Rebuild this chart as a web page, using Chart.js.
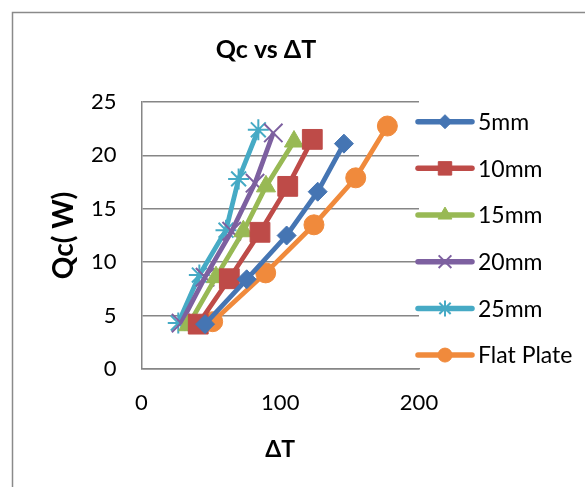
<!DOCTYPE html>
<html>
<head>
<meta charset="utf-8">
<script src="https://cdn.jsdelivr.net/npm/chart.js@4/dist/chart.umd.min.js"></script>
<style>
  html, body { margin: 0; padding: 0; background: #fff; }
  #wrap { position: relative; width: 585px; height: 487px; }
  canvas { display: block; }
</style>
</head>
<body>
<div id="wrap"><canvas id="c" width="585" height="487"></canvas></div>
<script>
// ---- data ----
const seriesNames = ['5mm', '10mm', '15mm', '20mm', '25mm', 'Flat Plate'];
const dT_5mm   = [45.8, 75.8, 104.6, 127.0, 145.9];
const qc_5mm   = [4.2, 8.4, 12.5, 16.6, 21.1];
const dT_10mm  = [40.9, 63.3, 85.4, 105.4, 123.1];
const qc_10mm  = [4.2, 8.45, 12.8, 17.1, 21.5];
const dT_15mm  = [33.7, 53.7, 73.4, 89.7, 109.9];
const qc_15mm  = [4.1, 8.6, 12.9, 17.1, 21.3];
const dT_20mm  = [28.5, 45.8, 65.0, 81.8, 95.0];
const qc_20mm  = [4.3, 8.6, 12.9, 17.4, 22.1];
const dT_25mm  = [26.5, 41.7, 60.9, 70.0, 84.2];
const qc_25mm  = [4.3, 8.8, 13.0, 17.8, 22.4];
const dT_flat  = [51.3, 89.5, 124.3, 154.4, 177.2];
const qc_flat  = [4.43, 9.0, 13.5, 17.9, 22.75];
const xTicks = [0, 100, 200];
const yTicks = [0, 5, 10, 15, 20, 25];

const xs = [dT_5mm, dT_10mm, dT_15mm, dT_20mm, dT_25mm, dT_flat];
const ys = [qc_5mm, qc_10mm, qc_15mm, qc_20mm, qc_25mm, qc_flat];

const colors = ['#4575B3', '#BE4B48', '#98B954', '#7D60A0', '#46AAC5', '#F08A3C'];
const styles = ['rectRot', 'rect', 'triangle', 'crossRot', 'star', 'circle'];
const radii  = [9.5, 14, 11, 13, 10.5, 10];
const legendRadii = [7, 9.5, 8, 9, 8, 7];

const datasets = seriesNames.map((name, i) => ({
  label: name,
  data: xs[i].map((x, j) => ({ x: x, y: ys[i][j] })),
  showLine: true,
  borderColor: colors[i],
  backgroundColor: colors[i],
  borderWidth: 4.8,
  pointStyle: styles[i],
  pointRadius: radii[i],
  pointHoverRadius: radii[i],
  pointBackgroundColor: colors[i],
  pointBorderColor: colors[i],
  pointBorderWidth: (styles[i] === 'crossRot' || styles[i] === 'star') ? 2 : 1,
  tension: 0
}));

const FONT = 'Lato';

const decor = {
  id: 'decor',
  beforeDraw(chart) {
    const ctx = chart.ctx;
    ctx.save();
    ctx.strokeStyle = '#8a8a8a';
    ctx.lineWidth = 1.5;
    ctx.strokeRect(12.5, 12.5, 800, 800);
    ctx.restore();
  },
  afterDraw(chart) {
    const ctx = chart.ctx;
    ctx.save();
    // chart title
    ctx.fillStyle = '#000';
    ctx.font = 'bold 25px ' + FONT;
    ctx.textAlign = 'center';
    ctx.textBaseline = 'middle';
    ctx.fillText('Qc vs \u0394T', 266, 50);
    // legend
    chart.data.datasets.forEach((ds, i) => {
      const y = 121.7 + 46.67 * i;
      ctx.strokeStyle = ds.borderColor;
      ctx.lineWidth = 5.5;
      ctx.lineCap = 'round';
      ctx.beginPath();
      ctx.moveTo(418, y);
      ctx.lineTo(472, y);
      ctx.stroke();
      ctx.fillStyle = ds.pointBackgroundColor;
      ctx.strokeStyle = ds.pointBorderColor;
      ctx.lineWidth = ds.pointBorderWidth;
      ctx.lineCap = 'butt';
      Chart.helpers.drawPoint(ctx, { pointStyle: ds.pointStyle, radius: legendRadii[i], rotation: 0, borderWidth: ds.pointBorderWidth }, 445, y);
      ctx.fillStyle = '#000';
      ctx.font = '23px ' + FONT;
      ctx.textAlign = 'left';
      ctx.textBaseline = 'middle';
      ctx.fillText(ds.label, 478, y + 1);
    });
    ctx.restore();
  }
};

new Chart(document.getElementById('c'), {
  type: 'scatter',
  data: { datasets },
  options: {
    responsive: false,
    animation: false,
    layout: { padding: { top: 102, right: 166, bottom: 0, left: 0 } },
    plugins: {
      legend: { display: false },
      title: { display: false },
      tooltip: { enabled: false }
    },
    scales: {
      x: {
        type: 'linear',
        min: 0, max: 200,
        afterFit: s => { s.height = 118; },
        afterBuildTicks: s => { s.ticks = xTicks.map(v => ({ value: v })); },
        grid: { display: false, drawTicks: false },
        border: { display: true, color: '#868686', width: 1.5 },
        ticks: { color: '#000', font: { family: FONT, size: 22 }, padding: 21, maxRotation: 0 },
        title: { display: true, text: '\u0394T', color: '#000', font: { family: FONT, size: 23, weight: 'bold' }, padding: { top: 0, bottom: 24 } }
      },
      y: {
        type: 'linear',
        min: 0, max: 25,
        afterFit: s => { s.width = 141.5; },
        afterBuildTicks: s => { s.ticks = yTicks.map(v => ({ value: v })); },
        grid: { display: true, color: '#868686', lineWidth: 1.5, drawTicks: false },
        border: { display: true, color: '#868686', width: 1.5 },
        ticks: { color: '#000', font: { family: FONT, size: 22 }, padding: 25 },
        title: { display: true, text: 'Qc( W)', color: '#000', font: { family: FONT, size: 28, weight: 'bold' }, padding: { top: 47, bottom: 0 } }
      }
    }
  },
  plugins: [decor]
});
</script>
</body>
</html>
